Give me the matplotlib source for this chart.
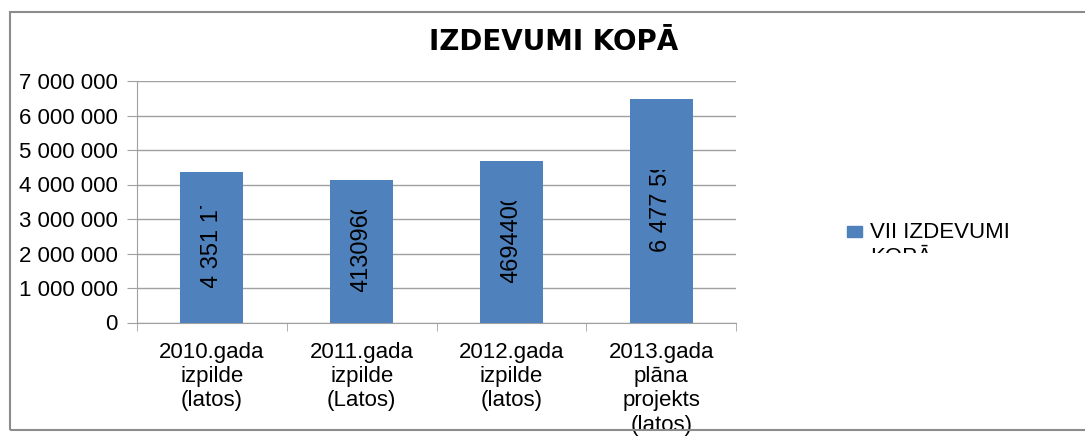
import matplotlib
matplotlib.use("Agg")
import matplotlib.pyplot as plt
from matplotlib.patches import Rectangle
from matplotlib.transforms import Bbox, offset_copy
from matplotlib.ticker import FuncFormatter, FixedLocator

plt.rcParams['font.family'] = ['Liberation Sans', 'DejaVu Sans']

# data
categories = ["2010.gada\nizpilde\n(latos)", "2011.gada\nizpilde\n(Latos)",
              "2012.gada\nizpilde\n(latos)", "2013.gada\nplāna\nprojekts\n(latos)"]
values = [4351171, 4130960, 4694400, 6477590]
bar_labels = ["4 351 171", "4130960", "4694400", "6 477 590"]
series_name = "VII IZDEVUMI\nKOPĀ"
title = "IZDEVUMI KOPĀ"

W, H = 1085, 437
bar_color = "#4F81BD"
grid_color = "#A0A0A0"

fig = plt.figure(figsize=(W / 100, H / 100), dpi=100)
ax = fig.add_axes([137 / W, (H - 322.5) / H, (736 - 137) / W, (322.5 - 81) / H])

x = list(range(len(values)))
bars = ax.bar(x, values, width=0.42, color=bar_color, zorder=3)

ax.set_xlim(-0.5, len(values) - 0.5)
ax.set_ylim(0, 7000000)
ax.set_yticks(range(0, 7000001, 1000000))
ax.yaxis.set_major_formatter(FuncFormatter(lambda v, p: f"{v:,.0f}".replace(",", " ")))
ax.grid(axis="y", color=grid_color, linewidth=1, zorder=0)

ax.set_xticks(x)
ax.set_xticklabels(categories, fontsize=16, linespacing=1.2)
ax.xaxis.set_minor_locator(FixedLocator([i - 0.5 for i in range(len(values) + 1)]))
ax.tick_params(axis="x", which="major", length=0, pad=14)
ax.tick_params(axis="x", which="minor", length=6, color=grid_color)
ax.tick_params(axis="y", length=7, color=grid_color, labelsize=16, pad=7)

for s in ["top", "right"]:
    ax.spines[s].set_visible(False)
for s in ["left", "bottom"]:
    ax.spines[s].set_color(grid_color)

# value labels inside bars, cut off like in the original
for i, v in enumerate(values):
    p0 = ax.transData.transform((i - 0.21, v / 2))
    p1 = ax.transData.transform((i + 0.21, v / 2))
    clip = Bbox.from_extents(p0[0], p0[1] - 41, p1[0], p0[1] + 41)
    t = ax.text(i, v / 2, bar_labels[i], rotation=90, rotation_mode="anchor",
                ha="left", va="center", fontsize=17, zorder=4,
                transform=offset_copy(ax.transData, fig=fig, y=-41, units="dots"))
    t.set_clip_box(clip)
    t.set_clip_on(True)

# title
fig.text(554 / W, (H - 42) / H, title, ha="center", va="center",
         fontsize=20, fontweight="bold", family=["DejaVu Sans"])

# legend, second line cut off as in the original
fig.patches.append(Rectangle((847 / W, (H - 237) / H), 15 / W, 11 / H,
                             transform=fig.transFigure, color=bar_color))
lt = fig.text(870 / W, (H - 263) / H, series_name, ha="left", va="baseline",
              fontsize=16, linespacing=1.22)
lt.set_clip_box(Bbox.from_extents(840, H - 253, 1085, H - 200))
lt.set_clip_on(True)

# outer frame of the chart
fig.patches.append(Rectangle((10 / W, (H - 430) / H), 1100 / W, 418 / H,
                             transform=fig.transFigure, fill=False,
                             edgecolor="#8C8C8C", linewidth=1.5))

fig.savefig("out.png", dpi=100)
